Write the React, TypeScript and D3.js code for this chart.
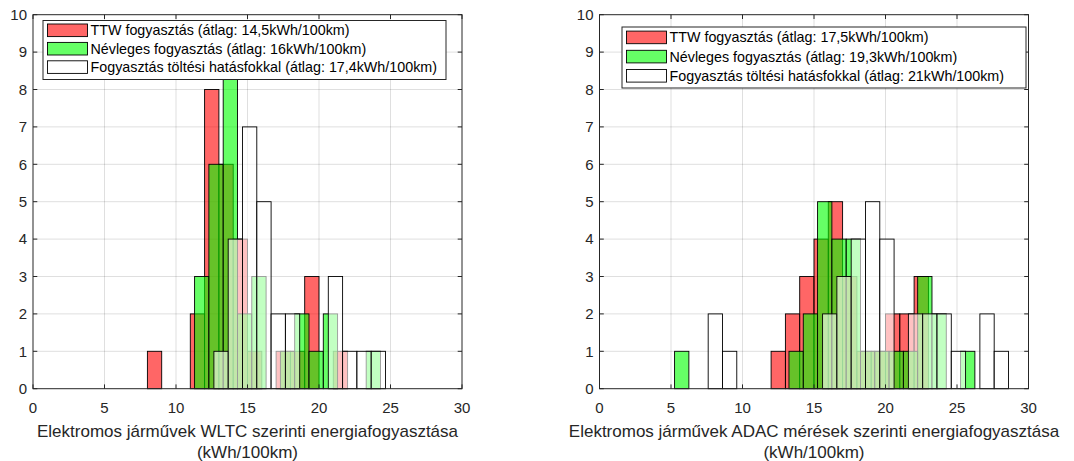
import * as d3 from 'd3'
import React from 'react'

const WIDTH = 1074
const HEIGHT = 461
const FONT = '"Liberation Sans", Arial, Helvetica, sans-serif'
const AXIS_COLOR = '#262626'

// every histogram uses 1 kWh/100km wide bins
const BIN_WIDTH = 1

// WLTC (left panel): first bin edge + counts per bin
const wltcTtwStart = 8
const wltcTtwCounts = [1, 0, 0, 2, 8, 6, 4, 1, 0, 1, 1, 3, 0, 1]
const wltcNominalStart = 11.3
const wltcNominalCounts = [3, 6, 9, 2, 3, 0, 1, 2, 1, 2, 0, 0, 1]
const wltcChargeStart = 12.65
const wltcChargeCounts = [1, 4, 7, 5, 2, 2, 0, 0, 3, 1, 1, 1]
const wltcLegend = [
  'TTW fogyasztás (átlag: 14,5kWh/100km)',
  'Névleges fogyasztás (átlag: 16kWh/100km)',
  'Fogyasztás töltési hatásfokkal (átlag: 17,4kWh/100km)',
]
const wltcXLabel = ['Elektromos járművek WLTC szerinti energiafogyasztása', '(kWh/100km)']

// ADAC (right panel)
const adacTtwStart = 12
const adacTtwCounts = [1, 2, 3, 4, 5, 3, 1, 1, 2, 2, 3]
const adacNominalStart = 5.25
const adacNominalCounts = [1, 0, 0, 0, 0, 0, 0, 0, 1, 2, 5, 4, 4, 1, 1, 1, 1, 3, 2, 0, 1]
const adacChargeStart = 7.6
const adacChargeCounts = [2, 1, 0, 0, 0, 0, 0, 0, 2, 3, 4, 5, 4, 0, 2, 2, 2, 1, 0, 2, 1]
const adacLegend = [
  'TTW fogyasztás (átlag: 17,5kWh/100km)',
  'Névleges fogyasztás (átlag: 19,3kWh/100km)',
  'Fogyasztás töltési hatásfokkal (átlag: 21kWh/100km)',
]
const adacXLabel = ['Elektromos járművek ADAC mérések szerinti energiafogyasztása', '(kWh/100km)']

const seriesColors = ['#ff0000', '#00ff00', '#ffffff']
const xTicks = [0, 5, 10, 15, 20, 25, 30]
const yTicks = d3.range(0, 11)

const toBins = (start, counts) =>
  counts.map((c, i) => ({ x0: start + i * BIN_WIDTH, x1: start + (i + 1) * BIN_WIDTH, count: c })).filter(d => d.count > 0)

const Panel = ({ left, top, width, height, series, legend, legendBox, xLabel }) => {
  const x = d3.scaleLinear().domain([0, 30]).range([left, left + width])
  const y = d3.scaleLinear().domain([0, 10]).range([top + height, top])
  const tick = 4.3
  const bottom = top + height
  const right = left + width

  return (
    <g>
      {/* grid */}
      <g stroke={AXIS_COLOR} strokeOpacity={0.15} strokeWidth={1}>
        {xTicks.slice(1, -1).map(t => (
          <line key={'gx' + t} x1={x(t)} x2={x(t)} y1={top} y2={bottom} />
        ))}
        {yTicks.slice(1, -1).map(t => (
          <line key={'gy' + t} x1={left} x2={right} y1={y(t)} y2={y(t)} />
        ))}
      </g>

      {/* histograms, drawn in order so later ones lay over earlier ones */}
      {series.map((s, si) => (
        <g key={si}>
          {toBins(s.start, s.counts).map((b, i) => (
            <rect
              key={i}
              x={x(b.x0)}
              y={y(b.count)}
              width={x(b.x1) - x(b.x0)}
              height={y(0) - y(b.count)}
              fill={seriesColors[si]}
              fillOpacity={0.6}
              stroke="#000"
              strokeWidth={0.9}
            />
          ))}
        </g>
      ))}

      {/* axes box with inward ticks */}
      <rect x={left} y={top} width={width} height={height} fill="none" stroke={AXIS_COLOR} strokeWidth={1} />
      <g stroke={AXIS_COLOR} strokeWidth={1}>
        {xTicks.map(t => (
          <g key={'tx' + t}>
            <line x1={x(t)} x2={x(t)} y1={bottom} y2={bottom - tick} />
            <line x1={x(t)} x2={x(t)} y1={top} y2={top + tick} />
          </g>
        ))}
        {yTicks.map(t => (
          <g key={'ty' + t}>
            <line x1={left} x2={left + tick} y1={y(t)} y2={y(t)} />
            <line x1={right} x2={right - tick} y1={y(t)} y2={y(t)} />
          </g>
        ))}
      </g>
      <g fill={AXIS_COLOR} fontFamily={FONT} fontSize={15}>
        {xTicks.map(t => (
          <text key={'lx' + t} x={x(t)} y={bottom + 24} textAnchor="middle">
            {t}
          </text>
        ))}
        {yTicks.map(t => (
          <text key={'ly' + t} x={left - 6} y={y(t) + 5.3} textAnchor="end">
            {t}
          </text>
        ))}
      </g>
      <g fill={AXIS_COLOR} fontFamily={FONT} fontSize={17} textAnchor="middle">
        <text x={(left + right) / 2} y={bottom + 48}>
          {xLabel[0]}
        </text>
        <text x={(left + right) / 2} y={bottom + 69}>
          {xLabel[1]}
        </text>
      </g>

      {/* legend */}
      <g>
        <rect
          x={legendBox.x}
          y={legendBox.y}
          width={legendBox.w}
          height={legendBox.h}
          fill="#fff"
          stroke={AXIS_COLOR}
          strokeWidth={1}
        />
        {legend.map((label, i) => {
          const cy = legendBox.y + legendBox.first + i * legendBox.step
          return (
            <g key={i}>
              <rect
                x={legendBox.x + 4.5}
                y={cy - 6.3}
                width={40}
                height={12.6}
                fill={seriesColors[i]}
                fillOpacity={0.6}
                stroke="#000"
                strokeWidth={0.9}
              />
              <text x={legendBox.x + 47.5} y={cy + 5} fontFamily={FONT} fontSize={14.3} fill="#000">
                {label}
              </text>
            </g>
          )
        })}
      </g>
    </g>
  )
}

export default function App() {
  const wltcSeries = [
    { start: wltcTtwStart, counts: wltcTtwCounts },
    { start: wltcNominalStart, counts: wltcNominalCounts },
    { start: wltcChargeStart, counts: wltcChargeCounts },
  ]
  const adacSeries = [
    { start: adacTtwStart, counts: adacTtwCounts },
    { start: adacNominalStart, counts: adacNominalCounts },
    { start: adacChargeStart, counts: adacChargeCounts },
  ]
  return (
    <svg
      width={WIDTH}
      height={HEIGHT}
      style={{ position: 'absolute', left: 0, top: 0, background: '#fff' }}
    >
      <Panel
        left={33}
        top={14.7}
        width={429}
        height={374}
        series={wltcSeries}
        legend={wltcLegend}
        legendBox={{ x: 43, y: 20.5, w: 403, h: 59, first: 9.8, step: 18.4 }}
        xLabel={wltcXLabel}
      />
      <Panel
        left={599.5}
        top={14.7}
        width={429}
        height={374}
        series={adacSeries}
        legend={adacLegend}
        legendBox={{ x: 622, y: 27, w: 404, h: 61, first: 10.4, step: 19.2 }}
        xLabel={adacXLabel}
      />
    </svg>
  )
}
